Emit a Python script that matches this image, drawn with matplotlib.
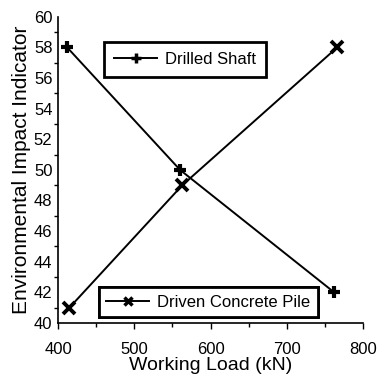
import matplotlib.pyplot as plt
from matplotlib.lines import Line2D
from matplotlib.ticker import MultipleLocator

plt.rcParams['font.family'] = ['Liberation Sans', 'DejaVu Sans']

# working load vs environmental impact for the two foundation types
shaft_load = [412, 560, 762]
shaft_impact = [58, 50, 42]
pile_load = [415, 563, 766]
pile_impact = [41, 49, 58]


def add_legend(ax, handle, label, bbox, pad=0.45):
    leg = ax.legend([handle], [label], loc='center', bbox_to_anchor=bbox,
                    frameon=True, fancybox=False, fontsize=12, handlelength=2.6,
                    borderpad=pad, borderaxespad=0, handletextpad=0.45,
                    framealpha=1)
    leg.get_frame().set_edgecolor('black')
    leg.get_frame().set_linewidth(2)
    ax.add_artist(leg)
    return leg


fig = plt.figure(figsize=(3.77, 3.75), dpi=100)
ax = fig.add_axes([0.154, 0.139, 0.809, 0.816])

ax.plot(shaft_load, shaft_impact, '-', color='black', lw=1.4,
        marker='+', ms=9, mew=3)
ax.plot(pile_load, pile_impact, '-', color='black', lw=1.4,
        marker='x', ms=8, mew=2.8)

ax.set_xlim(400, 800)
ax.set_ylim(40, 60)
ax.xaxis.set_major_locator(MultipleLocator(100))
ax.xaxis.set_minor_locator(MultipleLocator(50))
ax.yaxis.set_major_locator(MultipleLocator(2))
ax.yaxis.set_minor_locator(MultipleLocator(1))

for s in ['top', 'right']:
    ax.spines[s].set_visible(False)
for s in ['left', 'bottom']:
    ax.spines[s].set_linewidth(1.2)

ax.tick_params(axis='x', which='major', direction='out', length=4.5, width=1,
               labelsize=12, pad=9)
ax.tick_params(axis='x', which='minor', direction='out', length=3, width=1)
ax.tick_params(axis='y', which='major', direction='out', length=0, labelsize=12, pad=4)
ax.tick_params(axis='y', which='minor', direction='out', length=3, width=1)

ax.set_xlabel('Working Load (kN)', fontsize=14, labelpad=0)
ax.set_ylabel('Environmental Impact Indicator', fontsize=15, labelpad=2)

h1 = Line2D([], [], color='black', lw=1.4, marker='+', ms=7, mew=2.5)
h2 = Line2D([], [], color='black', lw=1.4, marker='x', ms=6, mew=2.5)
add_legend(ax, h1, 'Drilled Shaft', (0.416, 0.861), pad=0.6)
add_legend(ax, h2, 'Driven Concrete Pile', (0.492, 0.067))

fig.savefig('out.png', dpi=100)
